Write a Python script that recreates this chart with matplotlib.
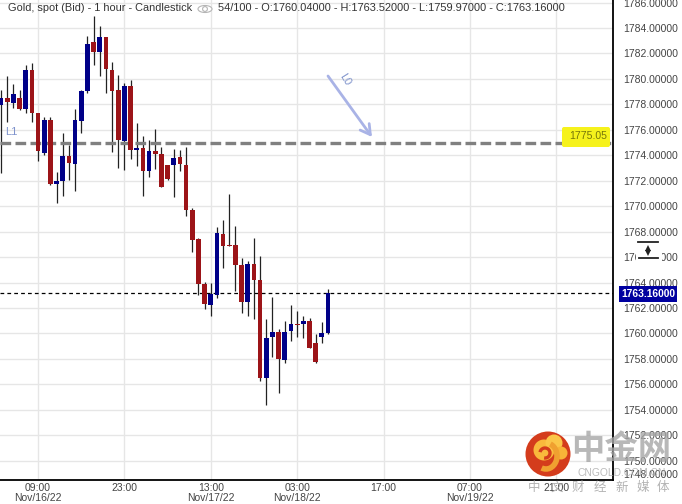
#!/usr/bin/env python3
"""Gold spot 1 hour candlestick chart with price scale on the right."""

import matplotlib
matplotlib.use("Agg")
import matplotlib.pyplot as plt
from matplotlib.patches import Circle, Ellipse, FancyArrowPatch, FancyBboxPatch, Rectangle, Arc

opens = [1777.95, 1778.48, 1778.14, 1778.48, 1777.66, 1780.70, 1777.35, 1774.21, 1776.77, 1771.77,
         1772.01, 1773.95, 1773.34, 1776.72, 1779.08, 1782.90, 1782.14, 1783.27, 1780.70, 1779.13,
         1775.15, 1779.44, 1774.44, 1774.57, 1772.77, 1774.34, 1774.10, 1773.24, 1773.24, 1773.89,
         1773.24, 1769.70, 1767.42, 1763.89, 1762.24, 1763.05, 1767.82, 1766.93, 1766.95, 1765.38,
         1762.47, 1765.46, 1764.20, 1756.50, 1759.72, 1760.12, 1757.92, 1760.20, 1760.75, 1760.75,
         1760.98, 1759.25, 1759.72, 1760.04]
highs = [1779.13, 1780.23, 1779.60, 1779.13, 1781.09, 1781.22, 1777.35, 1776.98, 1776.98, 1772.71,
         1775.73, 1774.81, 1777.61, 1779.13, 1783.37, 1784.94, 1784.16, 1783.27, 1781.30, 1780.31,
         1779.65, 1779.92, 1776.51, 1775.52, 1775.20, 1776.04, 1774.68, 1773.24, 1774.49, 1774.41,
         1774.68, 1769.83, 1767.48, 1764.07, 1763.99, 1768.34, 1768.92, 1770.96, 1768.44, 1765.93,
         1765.69, 1767.50, 1766.09, 1761.14, 1762.87, 1760.35, 1760.98, 1762.24, 1761.77, 1761.37,
         1761.22, 1759.96, 1760.90, 1763.52]
lows = [1772.64, 1776.64, 1777.69, 1777.55, 1777.30, 1776.64, 1773.58, 1774.02, 1771.67, 1770.23,
        1770.83, 1772.06, 1771.22, 1775.78, 1778.87, 1781.09, 1780.23, 1778.87, 1774.29, 1773.03,
        1772.85, 1773.74, 1773.16, 1770.83, 1772.32, 1772.90, 1771.54, 1772.06, 1770.75, 1772.79,
        1769.23, 1766.43, 1763.02, 1761.92, 1761.37, 1762.79, 1765.15, 1766.87, 1763.34, 1761.61,
        1761.37, 1761.14, 1756.27, 1754.38, 1758.15, 1755.33, 1757.68, 1759.41, 1759.72, 1759.65,
        1758.86, 1757.68, 1759.25, 1759.97]
closes = [1778.48, 1778.21, 1778.82, 1777.64, 1780.70, 1777.35, 1774.36, 1776.77, 1771.75, 1771.96,
          1773.95, 1773.42, 1776.77, 1779.05, 1782.74, 1782.14, 1783.27, 1780.81, 1779.08, 1775.20,
          1779.44, 1774.42, 1774.57, 1772.77, 1774.34, 1774.13, 1771.54, 1772.14, 1773.79, 1773.31,
          1769.70, 1767.34, 1763.89, 1762.32, 1763.08, 1767.89, 1766.87, 1766.87, 1765.38, 1762.47,
          1765.46, 1764.20, 1756.50, 1759.65, 1760.12, 1758.00, 1760.12, 1760.75, 1760.67, 1760.98,
          1758.86, 1757.76, 1760.04, 1763.16]

time_ticks = [6, 20, 34, 48, 62, 76, 90]
time_labels = ["09:00\nNov/16/22", "23:00", "13:00\nNov/17/22", "03:00\nNov/18/22",
               "17:00", "07:00\nNov/19/22", "21:00"]
price_ticks = list(range(1750, 1787, 2))
level_price = 1774.95
level_label = "1775.05"
last_price = 1763.16
title = "Gold, spot (Bid) - 1 hour - Candlestick"
info = "54/100 - O:1760.04000 - H:1763.52000 - L:1759.97000 - C:1763.16000"

BLUE = "#000088"
RED = "#9c1418"
GREY = "#444444"
FONT = ["Liberation Sans", "DejaVu Sans"]
CJK = ["Noto Sans CJK SC", "DejaVu Sans"]


def draw_candles(ax):
    for i in range(len(opens)):
        up = closes[i] >= opens[i]
        ax.plot([i, i], [lows[i], highs[i]], color="#222222", lw=0.9, zorder=3, solid_capstyle="butt")
        bottom = min(opens[i], closes[i])
        height = max(abs(closes[i] - opens[i]), 0.06)
        ax.bar(i, height, bottom=bottom, width=0.76, color=BLUE if up else RED, zorder=6, linewidth=0)


def draw_overlay(ov):
    # yellow marker behind the level label
    ov.add_patch(FancyBboxPatch((564, 129), 44, 16, boxstyle="round,pad=2", fc="#f6f21c", ec="none", zorder=1))
    ov.text(607, 136, level_label, ha="right", va="center", fontsize=7.6, color="#77770a", family=FONT, zorder=3)
    ov.text(5, 132, "L1", ha="left", va="center", fontsize=8, color="#7f93cc", family=FONT)
    ov.text(345, 80, "L0", ha="center", va="center", fontsize=8, color="#7f93cc", family=FONT, rotation=-58)
    ov.add_patch(FancyArrowPatch((328, 76), (372, 137), arrowstyle="->,head_length=7,head_width=4",
                                 color="#a9b3e6", lw=2, mutation_scale=1, shrinkA=0, shrinkB=0))

    # title line
    ov.text(8, 8, title, ha="left", va="center", fontsize=7.9, color="#333333", family=FONT)
    ov.add_patch(Ellipse((205, 9), 14, 7, fc="white", ec="#b5b5b5", lw=0.8))
    ov.add_patch(Circle((205, 9), 2.4, fc="white", ec="#b5b5b5", lw=0.8))
    ov.text(218, 8, info, ha="left", va="center", fontsize=7.9, color="#333333", family=FONT)

    # last price tag
    ov.add_patch(Rectangle((619, 286), 58, 16, fc="#0000a0", ec="none"))
    ov.text(648, 294, "1763.16000", ha="center", va="center", fontsize=7.4, fontweight="bold",
            color="white", family=FONT)

    # bottom price label sits squeezed above the axis end
    ov.text(678, 475, "1748.00000", ha="right", va="center", fontsize=7.5, color=GREY, family=FONT)

    # resize cursor sitting on the 1766 label
    ov.add_patch(Rectangle((636, 243), 26, 21, fc="white", ec="none"))
    ov.plot([638, 658], [242, 242], color="#222222", lw=1.3)
    ov.plot([639, 658], [258, 258], color="#222222", lw=1.3)
    ov.plot([648], [247.5], marker="^", ms=4.5, color="#222222", mew=0)
    ov.plot([648], [252.5], marker="v", ms=4.5, color="#222222", mew=0)

    # watermark
    ov.add_patch(Circle((548, 454), 22.5, fc="#d43c1c", ec="none", zorder=6))
    ov.add_patch(Circle((544, 450), 10.5, fc="#f9b93c", ec="none", zorder=7))
    ov.add_patch(Circle((554, 443), 8.5, fc="#fbc648", ec="none", zorder=7))
    ov.add_patch(Circle((561, 453), 6.5, fc="#f8b338", ec="none", zorder=7))
    ov.add_patch(Arc((546, 456), 22, 26, angle=0, theta1=-70, theta2=110, color="#f0a030", lw=4, zorder=7))
    ov.add_patch(Arc((545, 453), 10, 10, angle=0, theta1=-170, theta2=100, color="#d43c1c", lw=2.4, zorder=8))
    ov.text(621, 449, "中金网", ha="center", va="center", fontsize=24, fontweight="bold",
            color="#a6a6a6", alpha=0.8, family=CJK, zorder=6)
    ov.text(622, 473, "CNGOLD.COM.CN", ha="center", va="center", fontsize=7.4, color="#aaaaaa",
            alpha=0.8, family=FONT, zorder=6)
    for x, ch in zip([534, 557, 578, 600, 622, 643, 663], "中文财经新媒体"):
        ov.text(x, 487, ch, ha="center", va="center", fontsize=9, color="#a0a0a0", alpha=0.8,
                family=CJK, zorder=6)


def main():
    fig = plt.figure(figsize=(6.82, 5.04), dpi=100, facecolor="white")
    ax = fig.add_axes([0, (504 - 480) / 504, 612.5 / 682, 480 / 504])
    ax.set_xlim(-1 / 6.17, 611.5 / 6.17)
    ax.set_ylim(1748.49, 1786.2)

    ax.set_xticks(time_ticks)
    ax.set_xticklabels(time_labels, family=FONT, fontsize=7.5, color=GREY, linespacing=1.0)
    ax.set_yticks(price_ticks)
    ax.set_yticklabels([f"{p:.5f}" for p in price_ticks], family=FONT, fontsize=7.5, color=GREY)
    ax.yaxis.tick_right()
    ax.tick_params(axis="both", length=0)
    ax.tick_params(axis="x", pad=2.2)
    ax.tick_params(axis="y", pad=8)
    ax.grid(True, color="#e6e6e6", lw=1)
    ax.set_axisbelow(True)
    for side in ["top", "left"]:
        ax.spines[side].set_visible(False)
    for side in ["right", "bottom"]:
        ax.spines[side].set_linewidth(1.3)

    ax.axhline(level_price, color="#808080", lw=2.4, ls=(0, (3.2, 1.3)), zorder=5)
    draw_candles(ax)
    ax.axhline(last_price, color="black", lw=0.9, ls=(0, (3, 2.5)), zorder=5)

    ov = fig.add_axes([0, 0, 1, 1], zorder=10)
    ov.set_xlim(0, 682)
    ov.set_ylim(504, 0)
    ov.axis("off")
    draw_overlay(ov)

    fig.savefig("out.png", dpi=100)
    plt.close(fig)


if __name__ == "__main__":
    main()
